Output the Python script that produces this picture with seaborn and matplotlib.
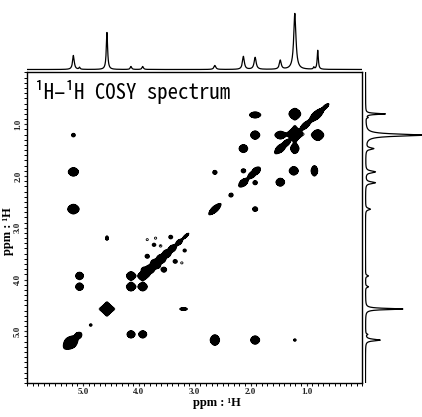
import numpy as np
import matplotlib
matplotlib.use("Agg")
import matplotlib.pyplot as plt
from matplotlib.ticker import MultipleLocator, FixedLocator
import seaborn as sns

# ---------------- data (ppm values) ----------------
# 1D projections: peak position, height on top trace, height on right trace, half width
peak_ppm     = [5.17, 5.06, 4.57, 4.14, 3.93, 2.64, 2.13, 1.92, 1.47, 1.21, 0.87, 0.80]
top_height   = [14, 2, 37, 3, 3, 4, 13, 12, 9, 56, 2, 19]
right_height = [15, 2, 38, 3, 3, 5, 10, 10, 8, 58, 2, 20]
peak_hwhm    = [0.018, 0.012, 0.014, 0.015, 0.015, 0.02, 0.02, 0.022, 0.02, 0.024, 0.01, 0.012]

# 2D cross peaks (F2 ppm, F1 ppm, relative intensity, width F2, width F1)
cross_x   = [5.17, 5.17, 5.17, 4.57, 5.06, 5.06, 4.14, 3.93, 4.14, 3.93, 3.20, 2.64, 1.92, 1.21,
             2.64, 1.92, 1.92, 0.86, 1.92, 1.23, 2.13, 1.47, 2.13, 1.92, 1.47, 1.21, 0.80, 1.21,
             4.86, 2.35, 4.57, 4.14, 3.93, 1.21,
             3.70, 3.43, 3.73, 3.61, 3.18, 3.85, 3.35, 3.23, 3.55, 3.91, 3.85, 3.85]
cross_y   = [1.21, 1.92, 2.64, 3.20, 3.93, 4.14, 3.93, 4.14, 5.06, 5.06, 4.57, 5.17, 5.17, 5.17,
             1.93, 2.64, 0.82, 1.90, 1.21, 1.90, 1.47, 2.12, 1.90, 2.13, 1.21, 1.47, 1.21, 0.80,
             4.88, 2.37, 4.57, 4.14, 3.93, 1.19,
             3.20, 3.18, 3.33, 3.35, 3.44, 3.55, 3.65, 3.68, 3.81, 3.81, 3.90, 3.23]
cross_amp = [0.35, 1.6, 1.7, 0.45, 1.0, 1.0, 1.4, 1.4, 1.0, 1.0, 0.5, 1.7, 1.5, 0.32,
             0.4, 0.5, 1.2, 1.2, 1.5, 1.5, 1.3, 1.3, 0.4, 0.4, 1.5, 1.5, 2.5, 2.5,
             0.3, 0.35, 3.5, 1.4, 1.5, 4.0,
             0.23, 0.35, 0.3, 0.23, 0.3, 0.35, 0.35, 0.23, 0.5, 0.4, 0.3, 0.23]
cross_wx  = [0.04, 0.05, 0.055, 0.025, 0.045, 0.045, 0.045, 0.045, 0.045, 0.045, 0.06, 0.045, 0.045, 0.03,
             0.04, 0.04, 0.06, 0.035, 0.045, 0.045, 0.045, 0.045, 0.04, 0.04, 0.05, 0.04, 0.05, 0.05,
             0.03, 0.04, 0.045, 0.045, 0.045, 0.05,
             0.04, 0.04, 0.04, 0.04, 0.04, 0.04, 0.04, 0.04, 0.04, 0.04, 0.04, 0.04]
cross_wy  = [0.04, 0.045, 0.05, 0.04, 0.045, 0.045, 0.045, 0.045, 0.045, 0.045, 0.025, 0.055, 0.045, 0.03,
             0.04, 0.04, 0.035, 0.06, 0.045, 0.045, 0.045, 0.045, 0.04, 0.04, 0.04, 0.05, 0.05, 0.05,
             0.03, 0.04, 0.045, 0.045, 0.045, 0.05,
             0.04, 0.04, 0.04, 0.04, 0.04, 0.04, 0.04, 0.04, 0.04, 0.04, 0.04, 0.04]
# Lorentzian share of each cross-peak line shape (higher = more star/diamond shaped)
cross_lor = [0.25] * 30 + [0.6, 0.3, 0.3, 0.5] + [0.25] * 12

# 2D diagonal peaks (ppm, relative intensity, width along diagonal, width across)
diag_ppm    = [5.22, 5.08, 3.80, 3.70, 3.60, 3.50, 3.40, 3.28, 3.16, 2.64, 2.13, 1.98, 1.90,
               1.47, 1.36, 1.02, 0.82, 0.66]
diag_amp    = [2.2, 1.0, 1.4, 1.8, 1.5, 1.4, 1.1, 0.7, 0.5, 1.6, 1.3, 1.2, 1.3,
               1.6, 1.0, 1.2, 2.0, 0.8]
diag_along  = [0.08, 0.04, 0.05, 0.05, 0.05, 0.05, 0.05, 0.05, 0.06, 0.08, 0.06, 0.05, 0.05,
               0.07, 0.05, 0.07, 0.09, 0.05]
diag_across = [0.055, 0.035, 0.045, 0.05, 0.045, 0.04, 0.035, 0.03, 0.02, 0.03, 0.035, 0.03, 0.035,
               0.035, 0.03, 0.03, 0.035, 0.02]

title_text = "\u00b9H\u2013\u00b9H COSY spectrum"
axis_label = "ppm : \u00b9H"
major_ticks = [1.0, 2.0, 3.0, 4.0, 5.0]


# ---------------- build spectra ----------------
def pv(t, eta=0.25):
    return eta / (1.0 + t * t) + (1.0 - eta) * np.exp(-np.log(2.0) * t * t)


grid = np.linspace(0.0, 6.0, 1201)
X, Y = np.meshgrid(grid, grid)
Z = np.zeros_like(X)
for x0, y0, a, wx, wy, eta in zip(cross_x, cross_y, cross_amp, cross_wx, cross_wy, cross_lor):
    Z += a * np.outer(pv((grid - y0) / wy, eta), pv((grid - x0) / wx, eta))
for c, a, wl, wc in zip(diag_ppm, diag_amp, diag_along, diag_across):
    u = ((X - c) + (Y - c)) / np.sqrt(2.0)
    v = ((X - c) - (Y - c)) / np.sqrt(2.0)
    Z += a * pv(u / wl) * pv(v / wc)

line_grid = np.linspace(0.0, 6.0, 3001)
top_trace = np.zeros_like(line_grid)
right_trace = np.zeros_like(line_grid)
for p, ht, hr, w in zip(peak_ppm, top_height, right_height, peak_hwhm):
    lor = 1.0 / (1.0 + ((line_grid - p) / w) ** 2)
    top_trace += ht * lor
    right_trace += hr * lor

# ---------------- figure ----------------
W, H = 422, 417
fig = plt.figure(figsize=(W / 100, H / 100), dpi=100)

L, R, T, B = 27, 362.5, 72.5, 383
ax = fig.add_axes([L / W, 1 - B / H, (R - L) / W, (B - T) / H])
ax_top = fig.add_axes([L / W, 1 - 70.5 / H, (R - L) / W, 62 / H])
ax_right = fig.add_axes([364.5 / W, 1 - B / H, (W - 364.5) / W, (B - T) / H])

Zc = np.clip(Z, 0.0, 1.0)
ax.contourf(X, Y, Zc, levels=[0.25, 2.0], colors="black", antialiased=False)
ax.contour(X, Y, Z, levels=[0.2, 0.25], colors="black", linewidths=0.6)
ax.set_xlim(6.0, 0.0)
ax.set_ylim(6.0, 0.0)

for s in ax.spines.values():
    s.set_linewidth(1.0)
    s.set_color("black")
ax.xaxis.set_major_locator(FixedLocator(major_ticks))
ax.yaxis.set_major_locator(FixedLocator(major_ticks))
ax.xaxis.set_minor_locator(MultipleLocator(0.1))
ax.yaxis.set_minor_locator(MultipleLocator(0.1))
ax.set_xticklabels([f"{t:.1f}" for t in major_ticks])
ax.set_yticklabels([f"{t:.1f}" for t in major_ticks])
ax.tick_params(which="major", direction="out", length=2.5, width=0.8, pad=1.0, labelsize=6.5, colors="#222222")
ax.tick_params(which="minor", direction="out", length=2, width=0.7)
ax.tick_params(top=False, right=False)
for lab in ax.get_xticklabels():
    lab.set_fontfamily("Liberation Serif")
    lab.set_fontweight("bold")
for lab in ax.get_yticklabels():
    lab.set_fontfamily("Liberation Serif")
    lab.set_fontweight("bold")
    lab.set_rotation(90)
    lab.set_va("center")

ax.set_xlabel(axis_label, fontfamily="Liberation Serif", fontweight="bold", fontsize=9)
ax.set_ylabel(axis_label, fontfamily="Liberation Serif", fontweight="bold", fontsize=9)
ax.xaxis.set_label_coords(0.565, -0.046)
ax.yaxis.set_label_coords(-0.04, 0.49)

ax.text(0.024, 0.975, title_text, transform=ax.transAxes, ha="left", va="top",
        fontsize=15, family=["Noto Sans Mono CJK JP", "Noto Sans CJK JP", "DejaVu Sans"],
        color="black")

# projections
sns.lineplot(x=line_grid, y=top_trace, ax=ax_top, color="black", linewidth=0.9,
             estimator=None, sort=False)
ax_top.set_xlim(6.0, 0.0)
ax_top.set_ylim(-1.0, 61.0)
ax_top.axis("off")

sns.lineplot(x=right_trace, y=line_grid, ax=ax_right, color="black", linewidth=0.9,
             estimator=None, sort=False, orient="y")
ax_right.set_ylim(6.0, 0.0)
ax_right.set_xlim(-1.0, 57.5)
ax_right.axis("off")

fig.savefig("out.png", dpi=100)
